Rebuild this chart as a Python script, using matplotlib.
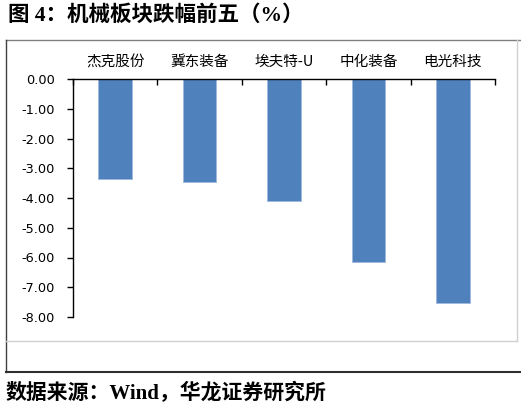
import matplotlib
matplotlib.use("Agg")
import matplotlib.pyplot as plt
from matplotlib.lines import Line2D

categories = ["杰克股份", "冀东装备", "埃夫特-U", "中化装备", "电光科技"]
values = [-3.35, -3.46, -4.11, -6.14, -7.53]
yticks = [0.0, -1.0, -2.0, -3.0, -4.0, -5.0, -6.0, -7.0, -8.0]
ytick_labels = ["0.00", "-1.00", "-2.00", "-3.00", "-4.00", "-5.00", "-6.00", "-7.00", "-8.00"]
title = "图 4：机械板块跌幅前五（%）"
source = "数据来源：Wind，华龙证券研究所"

W, H = 521, 413
fig = plt.figure(figsize=(W / 100, H / 100), dpi=100)

def fx(px):
    return px / W

def fy(py):
    return 1 - py / H

ax = fig.add_axes([fx(73), fy(317), fx(495) - fx(73), fy(79) - fy(317)])
x = list(range(len(categories)))
ax.bar(x, values, width=0.4, color="#4F81BD", edgecolor="#9DB9DD", linewidth=0.6, zorder=2)
ax.set_xlim(-0.5, len(categories) - 0.5)
ax.set_ylim(-8, 0)

for s in ["right", "bottom"]:
    ax.spines[s].set_visible(False)
ax.spines["top"].set_color("black")
ax.spines["left"].set_color("black")
ax.spines["top"].set_linewidth(1.0)
ax.spines["left"].set_linewidth(1.0)

ax.set_yticks(yticks)
ax.set_yticklabels(ytick_labels, fontsize=9.3, family="DejaVu Sans", color="black")
ax.tick_params(axis="y", direction="out", length=4, width=1.0, pad=9)

ax.xaxis.set_ticks_position("top")
ax.set_xticks([i - 0.5 for i in range(len(categories) + 1)])
ax.set_xticklabels([])
ax.tick_params(axis="x", direction="in", length=4, width=1.0)
ax.set_xticks(x, minor=True)
ax.set_xticklabels(categories, minor=True, fontsize=10.5, family=["Noto Sans CJK SC", "DejaVu Sans"])
ax.tick_params(axis="x", which="minor", length=0, pad=7)

# frames
def fline(x0, y0, x1, y1, color, lw):
    fig.add_artist(Line2D([fx(x0), fx(x1)], [fy(y0), fy(y1)], color=color, lw=lw, transform=fig.transFigure))

fline(5.5, 39.5, 521, 39.5, "#808080", 1.0)
fline(5.5, 39.5, 5.5, 371.5, "#404040", 1.0)
fline(5.5, 371.5, 521, 371.5, "#303030", 1.5)
fline(5.5, 340.5, 516.5, 340.5, "#D0D0D0", 1.0)
fline(516.5, 39.5, 516.5, 340.5, "#D0D0D0", 1.0)

fig.text(fx(8), fy(16), title, fontsize=15.5, fontweight="bold",
         family=["Liberation Serif", "Noto Sans CJK SC"], va="center", ha="left")
fig.text(fx(6), fy(393), source, fontsize=15, fontweight="bold",
         family=["Liberation Serif", "Noto Sans CJK SC"], va="center", ha="left")

fig.savefig("out.png", dpi=100)
